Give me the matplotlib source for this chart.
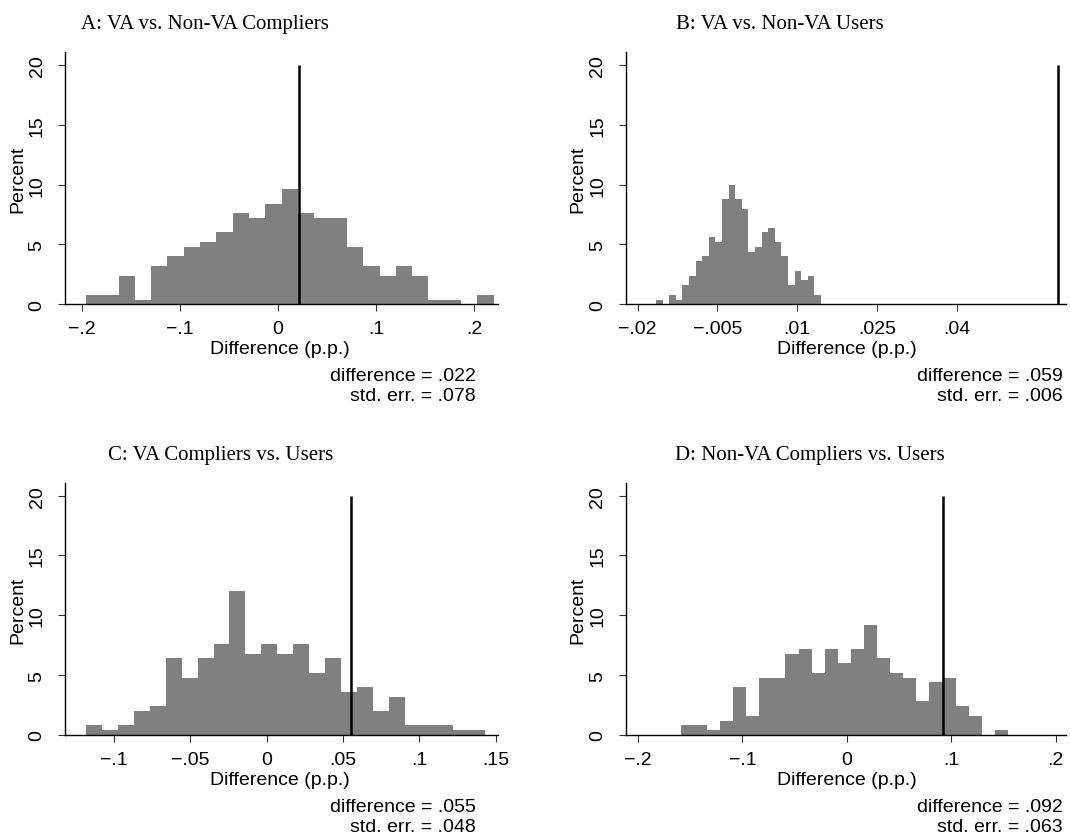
import matplotlib
matplotlib.use("Agg")
import matplotlib.pyplot as plt
import numpy as np

# ---------------- data ----------------
titles = ["A: VA vs. Non-VA Compliers", "B: VA vs. Non-VA Users",
          "C: VA Compliers vs. Users", "D: Non-VA Compliers vs. Users"]

# histogram percents (25 bins each)
pct_A = [0.8, 0.8, 2.4, 0.4, 3.2, 4.0, 4.8, 5.2, 6.0, 7.6, 7.2, 8.4, 9.6,
         7.6, 7.2, 7.2, 4.8, 3.2, 2.4, 3.2, 2.4, 0.4, 0.4, 0.0, 0.8]
pct_B = [0.4, 0.0, 0.8, 0.4, 1.6, 2.4, 3.6, 4.0, 5.6, 5.2, 8.8, 10.0, 8.8,
         8.0, 4.4, 4.8, 6.0, 6.4, 5.2, 4.0, 1.6, 2.8, 2.0, 2.4, 0.8]
pct_C = [0.8, 0.4, 0.8, 2.0, 2.4, 6.4, 4.8, 6.4, 7.6, 12.0, 6.8, 7.6, 6.8,
         7.6, 5.2, 6.4, 3.6, 4.0, 2.0, 3.2, 0.8, 0.8, 0.8, 0.4, 0.4]
pct_D = [0.8, 0.8, 0.4, 1.2, 4.0, 1.6, 4.8, 4.8, 6.8, 7.2, 5.2, 7.2, 6.0,
         7.2, 9.2, 6.4, 5.2, 4.8, 2.8, 4.4, 4.8, 2.4, 1.6, 0.0, 0.4]

# bin start and bin width of each histogram
bin_start = [-0.1956, -0.01656, -0.1183, -0.159]
bin_width = [0.01662, 0.00124, 0.01044, 0.01254]

# observed differences and standard errors
difference = [0.022, 0.059, 0.055, 0.092]
diff_txt = [".022", ".059", ".055", ".092"]
se_txt = [".078", ".006", ".048", ".063"]

xticks = [[-0.2, -0.1, 0, 0.1, 0.2],
          [-0.02, -0.005, 0.01, 0.025, 0.04],
          [-0.1, -0.05, 0, 0.05, 0.1, 0.15],
          [-0.2, -0.1, 0, 0.1, 0.2]]
xticklabels = [["\u2212.2", "\u2212.1", "0", ".1", ".2"],
               ["\u2212.02", "\u2212.005", ".01", ".025", ".04"],
               ["\u2212.1", "\u2212.05", "0", ".05", ".1", ".15"],
               ["\u2212.2", "\u2212.1", "0", ".1", ".2"]]
yticks = [0, 5, 10, 15, 20]

# ---------------- layout (pixels) ----------------
W, H = 1070, 837
fig = plt.figure(figsize=(W / 100, H / 100), dpi=100)
SANS = "Liberation Sans"
SERIF = "Liberation Serif"

xlims = [(-0.2169, 0.2243), (-0.02225, 0.0605), (-0.132, 0.1514), (-0.2117, 0.2100)]
ylim = (0, 21.1)
# left, right, top, bottom in px
boxes = [(65, 498, 52.8, 305.3), (625.7, 1066, 52.8, 305.3),
         (65, 498, 483.5, 736), (625.7, 1066, 483.5, 736)]
title_pos = [(205, 29), (780, 29), (221, 460), (810, 460)]
xlab_pos = [(280, 354), (847, 354), (280, 785), (847, 785)]
note_x = [476, 1063, 476, 1063]
note_y = [(381, 401), (381, 401), (812, 832), (812, 832)]
ylab_pos = [(18, 179), (578, 179), (18, 610), (578, 610)]

pcts = [pct_A, pct_B, pct_C, pct_D]

def fx(x):
    return x / W

def fy(y):
    return 1 - y / H

for i in range(4):
    l, r, t, b = boxes[i]
    ax = fig.add_axes([fx(l), fy(b), (r - l) / W, (b - t) / H])
    n = len(pcts[i])
    edges = bin_start[i] + bin_width[i] * np.arange(n)
    ax.bar(edges, pcts[i], width=bin_width[i], align="edge",
           color="#808080", linewidth=0)
    ax.plot([difference[i], difference[i]], [0, 20], color="black", lw=1.8,
            solid_capstyle="butt")
    ax.set_xlim(*xlims[i])
    ax.set_ylim(*ylim)
    for s in ["top", "right"]:
        ax.spines[s].set_visible(False)
    for s in ["left", "bottom"]:
        ax.spines[s].set_linewidth(1.0)
        ax.spines[s].set_color("black")
    ax.set_xticks(xticks[i])
    ax.set_xticklabels(xticklabels[i], fontfamily=SANS, fontsize=14)
    ax.set_yticks(yticks)
    ax.set_yticklabels([str(v) for v in yticks], fontfamily=SANS, fontsize=14,
                       rotation=90, va="center")
    ax.tick_params(axis="x", length=5, width=0.8, pad=6.5, color="#333333")
    ax.tick_params(axis="y", length=5, width=0.8, pad=9, color="#333333")

    fig.text(fx(title_pos[i][0]), fy(title_pos[i][1]), titles[i],
             fontfamily=SERIF, fontsize=15, ha="center", va="baseline")
    fig.text(fx(xlab_pos[i][0]), fy(xlab_pos[i][1]), "Difference (p.p.)",
             fontfamily=SANS, fontsize=14, ha="center", va="baseline")
    fig.text(fx(ylab_pos[i][0]), fy(ylab_pos[i][1]), "Percent",
             fontfamily=SANS, fontsize=14, ha="center", va="center", rotation=90)
    fig.text(fx(note_x[i]), fy(note_y[i][0]), "difference = " + diff_txt[i],
             fontfamily=SANS, fontsize=14, ha="right", va="baseline")
    fig.text(fx(note_x[i]), fy(note_y[i][1]), "std. err. = " + se_txt[i],
             fontfamily=SANS, fontsize=14, ha="right", va="baseline")

fig.savefig("out.png", dpi=100, facecolor="white")
